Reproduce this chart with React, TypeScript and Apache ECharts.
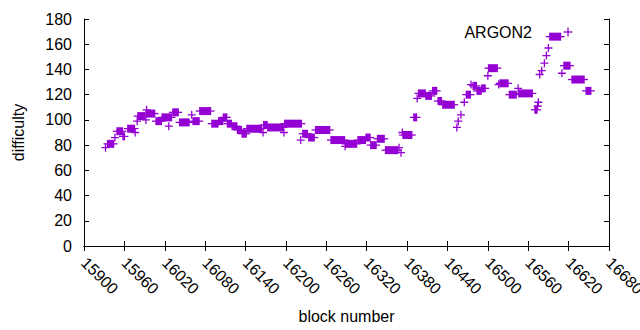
import React, { useEffect, useRef } from "react";
import * as echarts from "echarts";

// Runs of consecutive blocks at the same difficulty: [firstBlock, lastBlock, difficulty]
const runs: [number, number, number][] = [
  [15935, 15944, 81], [15949, 15957, 91], [15958, 15960, 87], [15965, 15975, 93],
  [15980, 15990, 103], [15992, 16005, 105], [16007, 16015, 99], [16016, 16030, 102],
  [16032, 16040, 106], [16042, 16056, 98], [16062, 16071, 99], [16072, 16088, 107],
  [16090, 16099, 97], [16100, 16106, 99], [16107, 16112, 102], [16113, 16119, 97],
  [16120, 16127, 95], [16128, 16134, 92], [16135, 16141, 89], [16142, 16164, 93],
  [16167, 16172, 96], [16173, 16196, 94], [16198, 16223, 97], [16225, 16232, 89],
  [16234, 16242, 86], [16244, 16265, 92], [16267, 16287, 84], [16289, 16305, 81],
  [16307, 16318, 84], [16319, 16325, 86], [16326, 16334, 80], [16336, 16346, 85],
  [16348, 16366, 76], [16374, 16387, 88], [16390, 16394, 102], [16397, 16407, 121],
  [16408, 16416, 119], [16418, 16424, 123], [16426, 16431, 115], [16433, 16450, 112],
  [16468, 16474, 120], [16478, 16483, 127], [16484, 16490, 123], [16491, 16496, 125],
  [16501, 16514, 141], [16518, 16530, 129], [16532, 16542, 120], [16546, 16566, 121],
  [16570, 16573, 108], [16592, 16608, 166], [16613, 16622, 143], [16625, 16643, 132],
  [16646, 16653, 123],
];

// Isolated blocks: [block, difficulty]
const singles: [number, number][] = [
  [15932, 78], [15946, 86], [15976, 90], [15979, 99], [15993, 108], [15992, 100],
  [16026, 95], [16060, 104], [16166, 90], [16197, 90], [16222, 84], [16288, 79],
  [16368, 78], [16371, 74], [16373, 90], [16395, 117], [16454, 94], [16456, 99],
  [16460, 104], [16465, 114], [16475, 128], [16500, 135], [16516, 128], [16545, 125],
  [16574, 111], [16575, 114], [16577, 136], [16580, 139], [16584, 145], [16587, 151],
  [16590, 157], [16610, 137],
];

const seriesTitle = "ARGON2";
const xMin = 15900;
const xMax = 16680;
const xStep = 60;
const yMin = 0;
const yMax = 180;
const yStep = 20;

const COLOR = "#9400D3";
const FONT = "'Liberation Sans', Arial, sans-serif";
const PLUS = "path://M3.35,0H4.65V8H3.35ZM0,3.35H8V4.65H0Z";

export default function App() {
  const ref = useRef<HTMLDivElement>(null);
  useEffect(() => {
    if (!ref.current) return;
    const chart = echarts.init(ref.current, null, { renderer: "svg" });
    const half = 4;
    const arm = 0.65;
    const tick = { show: true, inside: true, length: 5, lineStyle: { color: "#000" } };
    const line = { show: true, lineStyle: { color: "#000", width: 1 } };
    const axisCommon = {
      min: xMin,
      max: xMax,
      interval: xStep,
      type: "value" as const,
      axisLine: line,
      axisTick: tick,
      splitLine: { show: false },
    };
    const yCommon = {
      min: yMin,
      max: yMax,
      interval: yStep,
      type: "value" as const,
      axisLine: line,
      axisTick: tick,
      splitLine: { show: false },
    };
    chart.setOption({
      animation: false,
      backgroundColor: "#fff",
      textStyle: { fontFamily: FONT },
      grid: {
        left: 84,
        right: 31,
        top: 19,
        bottom: 84,
        containLabel: false,
        outerBoundsMode: "none",
      },
      graphic: [
        {
          type: "text",
          x: 532,
          y: 32,
          style: {
            text: seriesTitle,
            fill: "#000",
            font: `16px ${FONT}`,
            align: "right",
            verticalAlign: "middle",
          },
        },
        {
          type: "group",
          x: 568,
          y: 32,
          children: [
            { type: "rect", shape: { x: -4.5, y: -0.65, width: 9, height: 1.3 }, style: { fill: COLOR } },
            { type: "rect", shape: { x: -0.65, y: -4.5, width: 1.3, height: 9 }, style: { fill: COLOR } },
          ],
        },
      ],
      xAxis: [
        {
          ...axisCommon,
          position: "bottom",
          name: "block number",
          nameLocation: "middle",
          nameGap: 62,
          nameTextStyle: { fontSize: 16, color: "#000", fontFamily: FONT },
          axisLabel: {
            rotate: -45,
            margin: 14,
            fontSize: 16,
            color: "#000",
            fontFamily: FONT,
            hideOverlap: false,
            showMaxLabel: true,
            showMinLabel: true,
            formatter: (v: number) => String(v),
          },
        },
        {
          ...axisCommon,
          position: "top",
          axisLabel: { show: false },
        },
      ],
      yAxis: [
        {
          ...yCommon,
          position: "left",
          name: "difficulty",
          nameLocation: "middle",
          nameGap: 58,
          nameTextStyle: { fontSize: 16, color: "#000", fontFamily: FONT },
          axisLabel: { margin: 12, fontSize: 16, color: "#000", fontFamily: FONT },
        },
        {
          ...yCommon,
          position: "right",
          axisLabel: { show: false },
        },
      ],
      series: [
        {
          name: seriesTitle + " runs",
          type: "custom",
          xAxisIndex: 0,
          yAxisIndex: 0,
          encode: { x: [0, 1], y: 2 },
          data: runs,
          renderItem: (params: any, api: any) => {
            const p0 = api.coord([api.value(0), api.value(2)]);
            const p1 = api.coord([api.value(1), api.value(2)]);
            const w = p1[0] - p0[0];
            return {
              type: "group",
              children: [
                {
                  type: "rect",
                  shape: { x: p0[0] - arm, y: p0[1] - half, width: w + 2 * arm, height: 2 * half },
                  style: { fill: COLOR },
                },
                {
                  type: "rect",
                  shape: { x: p0[0] - half, y: p0[1] - arm, width: w + 2 * half, height: 2 * arm },
                  style: { fill: COLOR },
                },
              ],
            };
          },
        },
        {
          name: seriesTitle,
          type: "scatter",
          xAxisIndex: 0,
          yAxisIndex: 0,
          symbol: PLUS,
          symbolSize: 8,
          itemStyle: { color: COLOR, opacity: 1 },
          data: singles,
        },
      ],
    });
    return () => chart.dispose();
  }, []);
  return (
    <div
      ref={ref}
      style={{ position: "fixed", left: 0, top: 0, width: 640, height: 330, background: "#fff" }}
    />
  );
}
